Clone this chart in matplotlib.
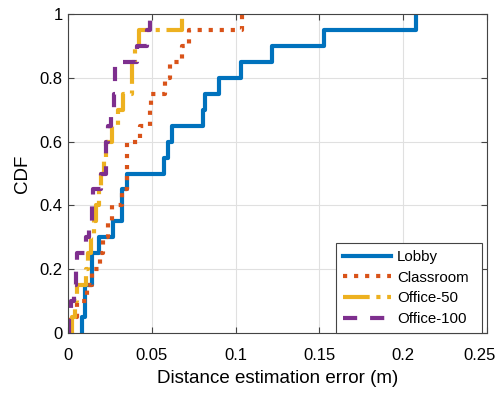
import numpy as np
import matplotlib.pyplot as plt
import matplotlib.transforms as mtransforms

plt.rcParams['font.family'] = ['Liberation Sans', 'DejaVu Sans']

# sorted error samples (m) read from the CDF steps
lobby = [0.0082, 0.0101, 0.0103, 0.0141, 0.0143, 0.0187, 0.027, 0.032, 0.0322, 0.035,
         0.0573, 0.0599, 0.0622, 0.0807, 0.0817, 0.090, 0.103, 0.1215, 0.153, 0.2074]
classroom = [0.001, 0.0055, 0.0115, 0.014, 0.019, 0.021, 0.024, 0.026, 0.032, 0.035,
             0.0352, 0.0354, 0.043, 0.049, 0.0492, 0.058, 0.061, 0.068, 0.072, 0.1036]
office50 = [0.0026, 0.004, 0.0055, 0.0106, 0.012, 0.0135, 0.0155, 0.0165, 0.0185, 0.0195,
            0.0215, 0.0225, 0.026, 0.030, 0.033, 0.038, 0.0382, 0.040, 0.042, 0.0678]
office100 = [0.0005, 0.0016, 0.0036, 0.0046, 0.0055, 0.0106, 0.0125, 0.0145, 0.0147, 0.0195,
             0.0225, 0.0227, 0.0235, 0.0255, 0.0275, 0.0277, 0.0279, 0.041, 0.047, 0.049]

names = ['Lobby', 'Classroom', 'Office-50', 'Office-100']
colors = ['#0072BD', '#D95319', '#EDB120', '#7E2F8E']
styles = ['-', ':', '-.', (0, (3.4, 3.1))]

fig = plt.figure(figsize=(5.01, 3.93), dpi=100)
ax = fig.add_axes([0.136, 0.153, 0.836, 0.811])

for data, name, c, ls in zip([lobby, classroom, office50, office100], names, colors, styles):
    v = np.sort(np.array(data))
    n = len(v)
    x = np.concatenate([[v[0]], v])
    y = np.concatenate([[0], np.arange(1, n + 1) / n])
    ax.step(x, y, where='post', color=c, linestyle=ls, linewidth=3, label=name)

ax.set_xlim(0, 0.25)
ax.set_ylim(0, 1)
ax.set_xticks([0, 0.05, 0.1, 0.15, 0.2, 0.25])
ax.set_xticklabels(['0', '0.05', '0.1', '0.15', '0.2', '0.25'])
ax.set_yticks([0, 0.2, 0.4, 0.6, 0.8, 1])
ax.set_yticklabels(['0', '0.2', '0.4', '0.6', '0.8', '1'])
ax.grid(True, color='#e0e0e0', linewidth=0.8)
ax.set_axisbelow(True)
ax.tick_params(direction='in', labelsize=12, length=4, color='#444444',
               top=True, right=True)
ax.tick_params(axis='x', pad=11)
ax.tick_params(axis='y', pad=4)
for s in ax.spines.values():
    s.set_color('#444444')
ax.set_xlabel('Distance estimation error (m)', fontsize=13.5, labelpad=5)
ax.set_ylabel('CDF', fontsize=13.5, labelpad=6)

# last tick label would be clipped at the figure edge, nudge it left a bit
last = ax.get_xticklabels()[-1]
last.set_transform(last.get_transform() + mtransforms.ScaledTranslation(-5 / 72, 0, fig.dpi_scale_trans))

leg = ax.legend(loc='lower left', bbox_to_anchor=(0.6396, 0.0, 0.3484, 0.3),
                mode='expand', borderaxespad=0, fontsize=10.8, fancybox=False,
                framealpha=1, edgecolor='#444444', handlelength=3.2,
                handletextpad=0.4, labelspacing=0.45, borderpad=0.45)
leg.get_frame().set_linewidth(0.8)

fig.savefig('out.png', dpi=100)
